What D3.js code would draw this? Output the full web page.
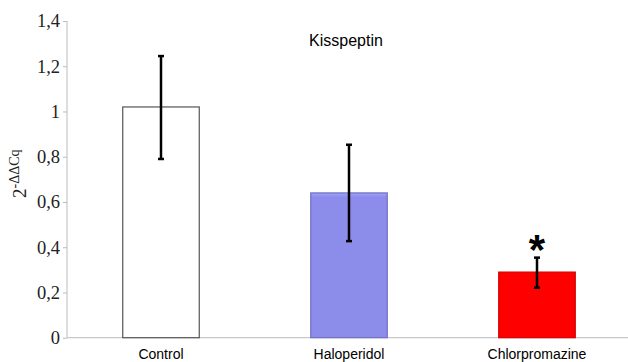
<!DOCTYPE html>
<html>
<head>
<meta charset="utf-8">
<script src="https://cdn.jsdelivr.net/npm/d3@7"></script>
<style>
  body { margin: 0; background: #fff; }
  svg { display: block; }
</style>
</head>
<body>
<div class="container"></div>
<script>
'use strict';

// Chart data
const categories = ["Control", "Haloperidol", "Chlorpromazine"];
const means = [1.02, 0.64, 0.29];
const errUpper = [1.245, 0.853, 0.354];
const errLower = [0.79, 0.427, 0.221];
const significant = [false, false, true];
const yTicks = [0, 0.2, 0.4, 0.6, 0.8, 1, 1.2, 1.4];
const barColors = ["#ffffff", "#8c8cea", "#ff0000"];
const barStrokes = ["#555555", "#7070c0", "#d00000"];

const width = 628;
const height = 362;
const serif = "'Liberation Serif', 'Times New Roman', serif";
const sans = "'Liberation Sans', Arial, sans-serif";

const svg = d3.select("div.container").append("svg")
    .attr("width", width)
    .attr("height", height);

const x = d3.scaleBand()
    .domain(categories)
    .range([67, 631])
    .paddingInner(0.593)
    .paddingOuter(0.2965);

const y = d3.scaleLinear()
    .domain([0, 1.4])
    .range([337.7, 21]);

// gradients so the coloured bars get their soft bevel
const defs = svg.append("defs");
[1, 2].forEach(function (i) {
  const g = defs.append("linearGradient")
      .attr("id", "grad" + i)
      .attr("x1", 0).attr("y1", 0).attr("x2", 0).attr("y2", 1);
  g.append("stop").attr("offset", "0%").attr("stop-color", d3.color(barColors[i]).brighter(0.4));
  g.append("stop").attr("offset", "3%").attr("stop-color", barColors[i]);
  g.append("stop").attr("offset", "100%").attr("stop-color", barColors[i]);
});

// y axis
const yAxis = svg.append("g")
    .attr("transform", "translate(67,0)")
    .call(d3.axisLeft(y).tickValues(yTicks).tickSize(4)
      .tickFormat(d => String(d).replace(".", ",")));
yAxis.select(".domain").attr("stroke", "#bbbbbb").attr("d", "M0," + y(1.4) + "V" + y(0));
yAxis.selectAll(".tick line").attr("stroke", "#bbbbbb");
yAxis.selectAll(".tick text")
    .attr("x", -7)
    .style("font-family", serif)
    .style("font-size", "18.5px")
    .attr("fill", "#222");

// x baseline
svg.append("line")
    .attr("x1", 67).attr("x2", width)
    .attr("y1", y(0)).attr("y2", y(0))
    .attr("stroke", "#bbbbbb");

// bars
svg.selectAll("rect.bar")
    .data(categories)
    .enter()
    .append("rect")
    .attr("class", "bar")
    .attr("x", d => x(d))
    .attr("width", x.bandwidth())
    .attr("y", (d, i) => y(means[i]))
    .attr("height", (d, i) => y(0) - y(means[i]))
    .attr("fill", (d, i) => i === 0 ? barColors[0] : "url(#grad" + i + ")")
    .attr("stroke", (d, i) => barStrokes[i])
    .attr("stroke-width", 1.2);

// error bars
const err = svg.selectAll("g.err")
    .data(categories)
    .enter()
    .append("g")
    .attr("class", "err")
    .attr("stroke", "#000");

err.append("line")
    .attr("x1", d => x(d) + x.bandwidth() / 2)
    .attr("x2", d => x(d) + x.bandwidth() / 2)
    .attr("y1", (d, i) => y(errUpper[i]))
    .attr("y2", (d, i) => y(errLower[i]))
    .attr("stroke-width", 2.5);

[errUpper, errLower].forEach(function (arr) {
  err.append("line")
      .attr("x1", d => x(d) + x.bandwidth() / 2 - 3)
      .attr("x2", d => x(d) + x.bandwidth() / 2 + 3)
      .attr("y1", (d, i) => y(arr[i]))
      .attr("y2", (d, i) => y(arr[i]))
      .attr("stroke-width", 2.5);
});

// significance star
svg.selectAll("text.star")
    .data(categories.filter((d, i) => significant[i]))
    .enter()
    .append("text")
    .attr("class", "star")
    .attr("x", d => x(d) + x.bandwidth() / 2)
    .attr("y", d => y(errUpper[categories.indexOf(d)]) + 6)
    .attr("text-anchor", "middle")
    .style("font-family", sans)
    .style("font-size", "42px")
    .style("font-weight", "bold")
    .attr("fill", "#000")
    .text("*");

// category labels
svg.selectAll("text.cat")
    .data(categories)
    .enter()
    .append("text")
    .attr("class", "cat")
    .attr("x", d => x(d) + x.bandwidth() / 2)
    .attr("y", 359)
    .attr("text-anchor", "middle")
    .style("font-family", sans)
    .style("font-size", "14px")
    .attr("fill", "#000")
    .text(d => d);

// title
svg.append("text")
    .attr("x", 346)
    .attr("y", 46)
    .attr("text-anchor", "middle")
    .style("font-family", sans)
    .style("font-size", "16px")
    .attr("fill", "#000")
    .text("Kisspeptin");

// y label 2^-ΔΔCq
const ylab = svg.append("text")
    .attr("transform", "translate(26,198) rotate(-90)")
    .style("font-family", serif)
    .style("font-size", "19px")
    .attr("fill", "#222");
ylab.append("tspan").text("2");
ylab.append("tspan").attr("dy", -7).style("font-size", "14px").text("-ΔΔCq");
</script>
</body>
</html>
